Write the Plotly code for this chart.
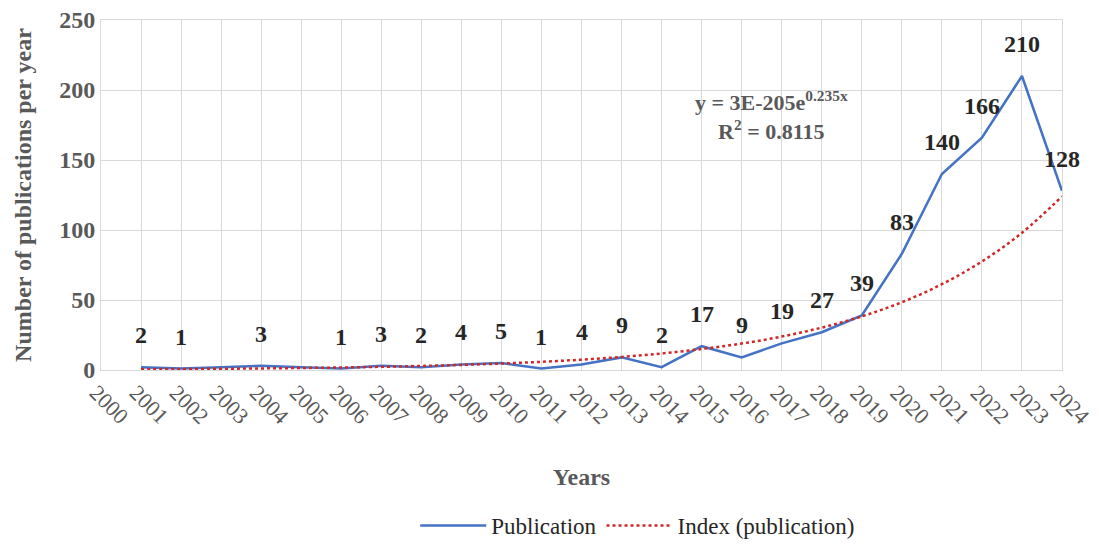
import plotly.graph_objects as go

years = list(range(2001, 2025))
publications = [2, 1, 2, 3, 2, 1, 3, 2, 4, 5, 1, 4, 9, 2, 17, 9, 19, 27, 39, 83, 140, 166, 210, 128]
point_labels = ["2", "1", "", "3", "", "1", "3", "2", "4", "5", "1", "4", "9", "2", "17", "9", "19", "27", "39", "83", "140", "166", "210", "128"]
# exponential trendline, values at each year
trend = [0.56, 0.70, 0.89, 1.13, 1.43, 1.8, 2.28, 2.89, 3.65, 4.62, 5.85, 7.4, 9.35, 11.8, 15.0, 18.9, 23.9, 30.3, 38.3, 48.4, 61.3, 77.5, 98.0, 124.0]
y_ticks = [0, 50, 100, 150, 200, 250]
x_ticks = list(range(2000, 2025))

SERIF = "Liberation Serif"
GRAY = "#595959"
GRID = "#d9d9d9"

fig = go.Figure()
fig.add_trace(go.Scatter(
    x=years, y=publications, mode="lines", name="Publication",
    line=dict(color="#4472C4", width=2.5),
))
fig.add_trace(go.Scatter(
    x=years, y=trend, mode="lines", name="Index (publication)",
    line=dict(color="#D02828", width=2.5, dash="dot", shape="spline"),
))

for xv, yv, t in zip(years, publications, point_labels):
    if t:
        fig.add_annotation(x=xv, y=yv, text=f"<b>{t}</b>", showarrow=False, yshift=32,
                           font=dict(family=SERIF, size=24, color="#262626"))

fig.add_annotation(x=2016.75, y=181.5,
                   text="<b>y = 3E-205e<sup>0.235x</sup></b><br><b>R<sup>2</sup> = 0.8115</b>",
                   showarrow=False, font=dict(family=SERIF, size=22, color=GRAY))

# the page body has an 8px margin, so the figure is sized/margined to land on the reference grid
fig.update_layout(
    width=1091, height=539,
    margin=dict(l=93, r=37, t=12, b=177, autoexpand=False),
    paper_bgcolor="white", plot_bgcolor="white",
    font=dict(family=SERIF, color=GRAY),
    showlegend=True,
    legend=dict(orientation="h", x=0.327, xanchor="left", xref="paper",
                y=-0.023, yanchor="bottom", yref="container",
                itemwidth=66,
                font=dict(family=SERIF, size=23, color="#262626")),
    xaxis=dict(
        range=[2000, 2024], tickmode="array", tickvals=x_ticks,
        ticktext=[str(v) for v in x_ticks], tickangle=45,
        tickfont=dict(family=SERIF, size=22, color=GRAY),
        ticklabeloverflow="allow", ticklabelshift=-5, automargin=False,
        showgrid=True, gridcolor=GRID, gridwidth=1,
        showline=True, linecolor=GRID, mirror=True, zeroline=False, ticks="",
        title=dict(text="<b>Years</b>", font=dict(family=SERIF, size=24, color=GRAY), standoff=40),
    ),
    yaxis=dict(
        range=[0, 250], tickmode="array", tickvals=y_ticks,
        ticktext=[f"<b>{v}</b>" for v in y_ticks],
        tickfont=dict(family=SERIF, size=24, color=GRAY),
        ticklabeloverflow="allow", automargin=False,
        showgrid=True, gridcolor=GRID, gridwidth=1,
        showline=True, linecolor=GRID, mirror=True, zeroline=False, ticks="",
        title=dict(text="<b>Number of publications per year</b>", font=dict(family=SERIF, size=24, color=GRAY), standoff=20),
    ),
)

fig.write_html("out.html")
